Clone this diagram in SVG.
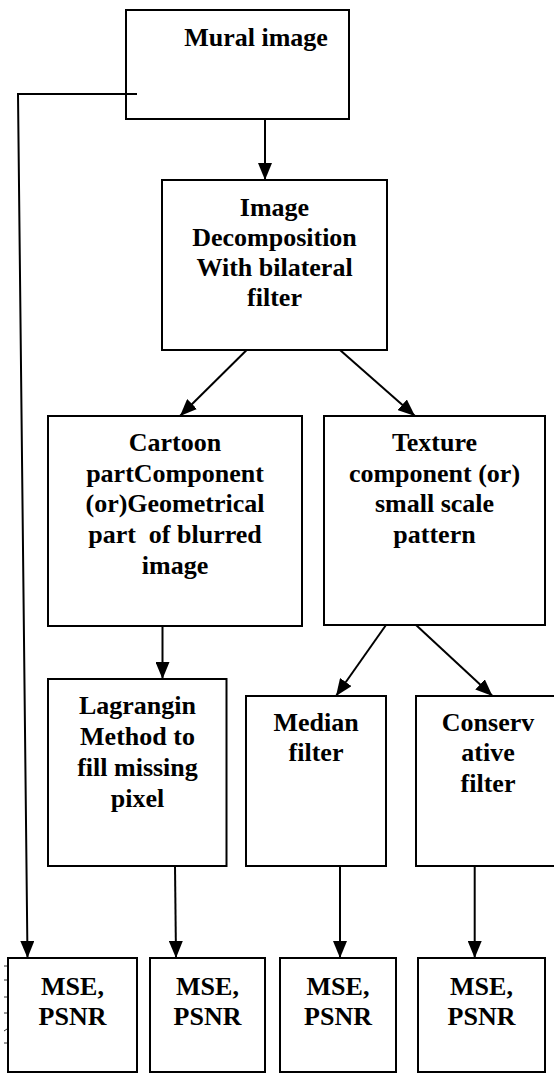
<svg xmlns="http://www.w3.org/2000/svg" width="554" height="1074" viewBox="0 0 554 1074">
<style>
.box{fill:#fff;stroke:#000;stroke-width:2}
.t{font-family:"Liberation Serif","Times New Roman","DejaVu Serif",serif;font-weight:bold;font-size:26px;text-anchor:middle;fill:#000}
.c{fill:none;stroke:#000;stroke-width:2}
.tick{stroke:#333;stroke-width:1}
</style>
<defs>
<marker id="ah" markerWidth="17" markerHeight="14" refX="17" refY="7" orient="auto" markerUnits="userSpaceOnUse">
<path d="M0,0 L17,7 L0,14 Z" fill="#000"/>
</marker>
</defs>
<rect width="554" height="1074" fill="#fff"/>
<g id="mural">
<rect class="box" x="126" y="10" width="223" height="109"/>
<text class="t" x="256" y="46" font-family="Liberation Serif, serif">Mural image</text>
</g>
<g id="decomposition" font-family="Liberation Serif, serif">
<rect class="box" x="162" y="180" width="225" height="170"/>
<text class="t" x="274.5" y="216">Image</text>
<text class="t" x="274.5" y="246">Decomposition</text>
<text class="t" x="274.5" y="276">With bilateral</text>
<text class="t" x="274.5" y="306">filter</text>
</g>
<g id="cartoon">
<rect class="box" x="48" y="416" width="254" height="210"/>
<text class="t" x="175" y="451">Cartoon</text>
<text class="t" x="175" y="482">partComponent</text>
<text class="t" x="175" y="512">(or)Geometrical</text>
<text class="t" x="175" y="543" xml:space="preserve">part  of blurred</text>
<text class="t" x="175" y="574">image</text>
</g>
<g id="texture">
<rect class="box" x="324" y="416" width="221" height="209"/>
<text class="t" x="434.5" y="451">Texture</text>
<text class="t" x="434.5" y="482">component (or)</text>
<text class="t" x="434.5" y="512">small scale</text>
<text class="t" x="434.5" y="543">pattern</text>
</g>
<g id="lagrangin">
<rect class="box" x="48" y="679" width="178.5" height="187"/>
<text class="t" x="137.5" y="714">Lagrangin</text>
<text class="t" x="137.5" y="745">Method to</text>
<text class="t" x="137.5" y="776">fill missing</text>
<text class="t" x="137.5" y="807">pixel</text>
</g>
<g id="median">
<rect class="box" x="246" y="696" width="140" height="170"/>
<text class="t" x="316" y="731">Median</text>
<text class="t" x="316" y="761">filter</text>
</g>
<g id="conservative">
<rect class="box" x="416" y="696" width="144" height="170"/>
<text class="t" x="488" y="731">Conserv</text>
<text class="t" x="488" y="761">ative</text>
<text class="t" x="488" y="792">filter</text>
</g>
<g id="mse1">
<rect class="box" x="8" y="958" width="129" height="114"/>
<text class="t" x="72.5" y="995">MSE,</text>
<text class="t" x="72.5" y="1025">PSNR</text>
<line class="tick" x1="4" y1="966" x2="7" y2="966"/>
<line class="tick" x1="4" y1="980" x2="7" y2="980"/>
<line class="tick" x1="4" y1="997" x2="7" y2="997"/>
<line class="tick" x1="4" y1="1013" x2="7" y2="1013"/>
<line class="tick" x1="4" y1="1031" x2="7" y2="1029"/>
<line class="tick" x1="4" y1="1043" x2="7" y2="1043"/>
</g>
<g id="mse2">
<rect class="box" x="150" y="958" width="115" height="114"/>
<text class="t" x="207.5" y="995">MSE,</text>
<text class="t" x="207.5" y="1025">PSNR</text>
</g>
<g id="mse3">
<rect class="box" x="280" y="958" width="116" height="114"/>
<text class="t" x="338" y="995">MSE,</text>
<text class="t" x="338" y="1025">PSNR</text>
</g>
<g id="mse4">
<rect class="box" x="418" y="958" width="127" height="114"/>
<text class="t" x="481.5" y="995">MSE,</text>
<text class="t" x="481.5" y="1025">PSNR</text>
</g>
<g id="connectors">
<line class="c" x1="265" y1="119" x2="265" y2="180" marker-end="url(#ah)"/>
<polyline class="c" points="137,94 18,94 27.5,958" marker-end="url(#ah)"/>
<line class="c" x1="246.7" y1="350" x2="180" y2="416" marker-end="url(#ah)"/>
<line class="c" x1="340" y1="350" x2="415" y2="416" marker-end="url(#ah)"/>
<line class="c" x1="162.5" y1="626" x2="162.5" y2="679" marker-end="url(#ah)"/>
<line class="c" x1="386" y1="625" x2="336" y2="696" marker-end="url(#ah)"/>
<line class="c" x1="416" y1="625" x2="492.5" y2="696" marker-end="url(#ah)"/>
<line class="c" x1="175" y1="866" x2="176" y2="958" marker-end="url(#ah)"/>
<line class="c" x1="340" y1="866" x2="340" y2="958" marker-end="url(#ah)"/>
<line class="c" x1="474.7" y1="866" x2="474.7" y2="958" marker-end="url(#ah)"/>
</g>
</svg>
